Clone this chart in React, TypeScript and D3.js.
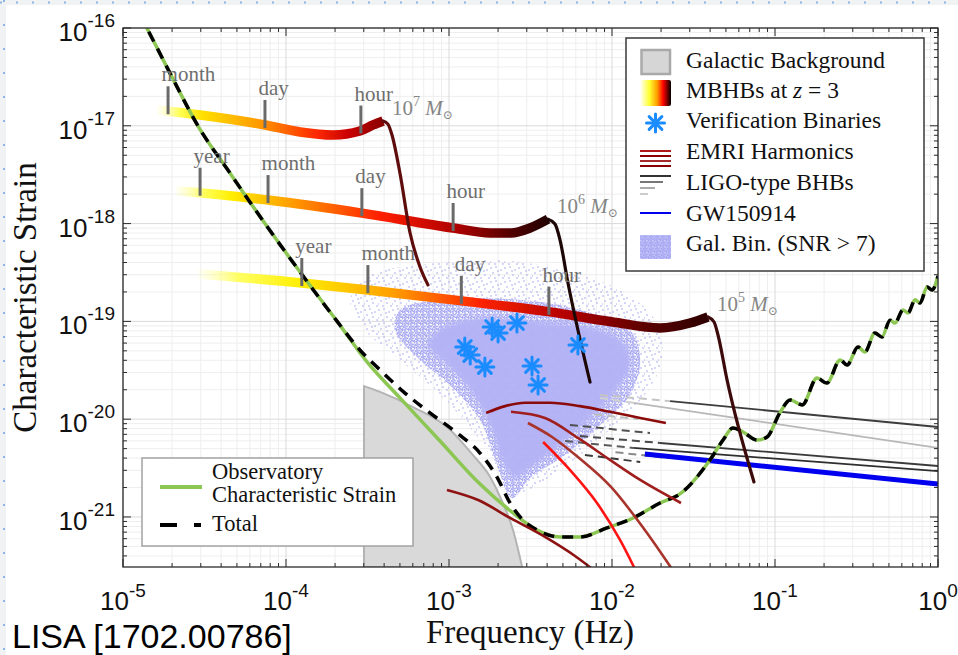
import React from "react";
import * as d3 from "d3";

type P = [number, number];

// ---------------- data (frequency in Hz, characteristic strain) ----------------
const xTickExponents = [-5, -4, -3, -2, -1, 0];
const yTickExponents = [-16, -17, -18, -19, -20, -21];

const sensitivityCurve: P[] = [
  [1.27e-5, 1.36e-16], [1.4e-5, 1.0e-16], [1.94e-5, 3.47e-17], [2.88e-5, 1.0e-17],
  [4.53e-5, 3.29e-18], [7.43e-5, 1.0e-18], [1.22e-4, 3.2e-19], [2.06e-4, 1.0e-19],
  [3.14e-4, 3.85e-20], [5.0e-4, 1.65e-20], [8.81e-4, 5.98e-21], [1.55e-3, 2.17e-21],
  [2.47e-3, 1.1e-21], [3.47e-3, 7.36e-22], [4.8e-3, 6.25e-22], [6.37e-3, 6.25e-22],
  [9.31e-3, 7.72e-22], [1.35e-2, 9.77e-22], [1.97e-2, 1.39e-21], [2.61e-2, 1.72e-21],
  [3.99e-2, 3.83e-21], [4.8e-2, 6.12e-21], [5.52e-2, 8.13e-21], [6.37e-2, 7.4e-21],
  [7.76e-2, 6.12e-21], [8.94e-2, 6.58e-21], [0.107, 1.16e-20], [0.124, 1.57e-20],
  [0.147, 1.4e-20], [0.181, 2.64e-20], [0.208, 2.34e-20], [0.251, 4.03e-20],
  [0.277, 3.58e-20], [0.323, 5.47e-20], [0.356, 4.86e-20], [0.41, 7.6e-20],
  [0.453, 6.92e-20], [0.508, 1.03e-19], [0.545, 9.63e-20], [0.61, 1.31e-19],
  [0.655, 1.22e-19], [0.723, 1.66e-19], [0.776, 1.54e-19], [0.857, 2.25e-19],
  [0.919, 2.09e-19], [1.0, 2.91e-19],
];

// where the total (sensitivity + galactic confusion) departs from the sensitivity curve
const totalDeparture: P[] = [
  [2.84e-4, 5.1e-20], [3.78e-4, 3.18e-20], [5.37e-4, 1.85e-20], [7.64e-4, 1.16e-20],
  [1.12e-3, 7.23e-21], [1.55e-3, 4.51e-21], [1.97e-3, 2.56e-21], [2.37e-3, 1.39e-21],
  [2.73e-3, 1.0e-21],
];

const galacticBackground: P[] = [
  [3.01e-4, 2.18e-20], [3.78e-4, 1.9e-20], [6.01e-4, 1.33e-20], [9.72e-4, 8.32e-21],
  [1.4e-3, 4.31e-21], [1.79e-3, 2.56e-21], [2.06e-3, 1.6e-21], [2.47e-3, 7.36e-22],
  [2.81e-3, 3.08e-22],
];

const galBinHalo: P[] = [
  [2.47e-4, 1.66e-19], [3.27e-4, 2.98e-19], [6.64e-4, 3.78e-19], [2.06e-3, 4.25e-19],
  [4.8e-3, 3.36e-19], [1.12e-2, 2.09e-19], [1.84e-2, 1.03e-19], [2.03e-2, 4.03e-20],
  [1.59e-2, 1.77e-20], [1.04e-2, 8.73e-21], [6.37e-3, 4.31e-21], [3.88e-3, 2.39e-21],
  [2.73e-3, 1.8e-21], [2.21e-3, 2.39e-21], [1.55e-3, 6.12e-21], [8.81e-4, 1.77e-20],
  [5.0e-4, 4.03e-20], [3.05e-4, 8.17e-20],
];
const galBinMid: P[] = [
  [5.0e-4, 1.31e-19], [1.01e-3, 1.66e-19], [2.73e-3, 1.66e-19], [6.37e-3, 1.31e-19],
  [1.29e-2, 8.17e-20], [1.49e-2, 4.03e-20], [1.29e-2, 1.77e-20], [8.44e-3, 8.73e-21],
  [5.15e-3, 4.31e-21], [3.14e-3, 2.51e-21], [2.44e-3, 1.56e-21], [1.91e-3, 4.01e-21],
  [1.55e-3, 9.82e-21], [1.01e-3, 2.24e-20], [6.64e-4, 4.03e-20], [4.67e-4, 8.17e-20],
];
const galBinCore: P[] = [
  [8.81e-4, 8.17e-20], [1.55e-3, 1.08e-19], [3.61e-3, 9.86e-20], [8.44e-3, 8.17e-20],
  [1.2e-2, 5.74e-20], [1.29e-2, 3.58e-20], [1.04e-2, 1.9e-20], [7.33e-3, 1.03e-20],
  [4.8e-3, 5.45e-21], [3.14e-3, 3.17e-21], [2.54e-3, 2.51e-21], [2.14e-3, 3.65e-21],
  [1.79e-3, 8.73e-21], [1.38e-3, 1.9e-20], [9.86e-4, 3.58e-20], [7.43e-4, 5.74e-20],
];

const verificationBinaries: P[] = [
  [1.84e-3, 8.77e-20], [2.0e-3, 7.6e-20], [2.61e-3, 9.63e-20], [1.25e-3, 5.47e-20],
  [1.35e-3, 4.53e-20], [1.66e-3, 3.42e-20], [3.23e-3, 3.5e-20], [3.52e-3, 2.24e-20],
  [6.18e-3, 5.74e-20],
];

const mbhb7Inspiral: P[] = [
  [1.62e-5, 1.45e-17], [2.97e-5, 1.29e-17], [7.43e-5, 1.02e-17], [1.22e-4, 8.65e-18],
  [1.94e-4, 8.05e-18], [2.84e-4, 8.85e-18], [3.42e-4, 1.02e-17], [3.94e-4, 1.12e-17],
];
const mbhb7Merger: P[] = [
  [3.94e-4, 1.12e-17], [4.22e-4, 1.04e-17], [4.47e-4, 8.05e-18], [5.0e-4, 3.29e-18],
  [5.77e-4, 8.02e-19], [6.64e-4, 3.6e-19], [7.43e-4, 2.36e-19],
];
const mbhb6Inspiral: P[] = [
  [2.11e-5, 2.15e-18], [3.05e-5, 2.06e-18], [7.76e-5, 1.74e-18], [2.92e-4, 1.28e-18],
  [1.06e-3, 9.02e-19], [1.79e-3, 8.02e-19], [2.4e-3, 8.02e-19], [3.14e-3, 9.02e-19],
  [4.05e-3, 1.11e-18],
];
const mbhb6Merger: P[] = [
  [4.05e-3, 1.11e-18], [4.47e-3, 9.9e-19], [4.8e-3, 6.79e-19], [5.37e-3, 2.47e-19],
  [6.18e-3, 8.17e-20], [7.33e-3, 2.4e-20],
];
const mbhb5Inspiral: P[] = [
  [2.88e-5, 3.05e-19], [1.25e-4, 2.47e-19], [3.18e-4, 2.09e-19], [1.2e-3, 1.62e-19],
  [4.17e-3, 1.25e-19], [1.01e-2, 9.86e-20], [1.97e-2, 8.57e-20], [3.01e-2, 9.63e-20],
  [3.88e-2, 1.11e-19],
];
const mbhb5Merger: P[] = [
  [3.88e-2, 1.11e-19], [4.23e-2, 9.86e-20], [4.47e-2, 7.26e-20], [5.08e-2, 2.52e-20],
  [7.43e-2, 2.28e-21],
];

const timeToMergerTicks = [
  { track: 0, f: 1.89e-5, label: "month" },
  { track: 0, f: 7.43e-5, label: "day" },
  { track: 0, f: 2.88e-4, label: "hour" },
  { track: 1, f: 2.97e-5, label: "year" },
  { track: 1, f: 7.76e-5, label: "month" },
  { track: 1, f: 2.92e-4, label: "day" },
  { track: 1, f: 1.06e-3, label: "hour" },
  { track: 2, f: 1.25e-4, label: "year" },
  { track: 2, f: 3.18e-4, label: "month" },
  { track: 2, f: 1.19e-3, label: "day" },
  { track: 2, f: 4.1e-3, label: "hour" },
];
const massExponents = ["7", "6", "5"];

const emriHarmonics: P[][] = [
  [[1.69e-3, 1.16e-20], [2.21e-3, 1.36e-20], [2.93e-3, 1.47e-20], [4.17e-3, 1.47e-20],
   [6.37e-3, 1.36e-20], [9.72e-3, 1.19e-20], [1.49e-2, 1.03e-20], [2.14e-2, 9.14e-21]],
  [[2.4e-3, 1.19e-20], [3.88e-3, 1.03e-20], [6.18e-3, 6.43e-21], [9.72e-3, 3.83e-21],
   [1.49e-2, 2.39e-21], [2.65e-2, 1.39e-21]],
  [[3.05e-3, 9.14e-21], [4.29e-3, 6.58e-21], [6.18e-3, 4.1e-21], [9.86e-3, 2.03e-21],
   [1.59e-2, 7.36e-22], [2.47e-2, 2.55e-22]],
  [[3.78e-3, 5.85e-21], [5.52e-3, 3.03e-21], [8.09e-3, 1.39e-21], [1.12e-2, 5.82e-22],
   [1.49e-2, 2.27e-22]],
  [[9.72e-4, 1.89e-21], [1.51e-3, 1.49e-21], [2.37e-3, 9.77e-22], [3.88e-3, 6.25e-22],
   [5.93e-3, 3.99e-22], [8.44e-3, 2.55e-22]],
];

// LIGO-type BHBs: [dashed start, solid start, end]
const ligoTracks: P[][] = [
  [[8.44e-3, 1.77e-20], [2.27e-2, 1.53e-20], [1.0, 8.32e-21]],
  [[8.44e-3, 1.65e-20], [1.35e-2, 1.47e-20], [1.0, 5.08e-21]],
  [[6.37e-3, 6.73e-21], [1.97e-2, 5.71e-21], [1.0, 3.32e-21]],
  [[5.15e-3, 5.98e-21], [1.35e-2, 5.08e-21], [1.0, 2.95e-21]],
  [[5.52e-3, 8.73e-21], [1.71e-2, 7.23e-21], [1.71e-2, 7.23e-21]],
  [[6.82e-3, 4.31e-21], [1.49e-2, 3.65e-21], [1.49e-2, 3.65e-21]],
  [[7.8e-3, 1.12e-20], [1.45e-2, 1.0e-20], [1.45e-2, 1.0e-20]],
  [[1.05e-2, 4.6e-21], [2.2e-2, 4.0e-21], [2.2e-2, 4.0e-21]],
];
const gw150914: P[] = [[1.59e-2, 4.4e-21], [1.0, 2.17e-21]];

const legendLabels = [
  "Galactic Background", "MBHBs at", "Verification Binaries", "EMRI Harmonics",
  "LIGO-type BHBs", "GW150914", "Gal. Bin. (SNR > 7)",
];

// ---------------- styling ----------------
const W = 958, H = 655;
const X0 = 123, X1 = 938, Y0 = 28, Y1 = 567;
const SERIF = "'Liberation Serif', 'DejaVu Serif', serif";
const SANS = "'Liberation Sans', Arial, sans-serif";
const GREEN = "#8cc653";
const LAV = "#b2b2f6";
const BLUE_VB = "#1a8cff";

const trackStyles = [
  { stops: [[0, "#ffffa0", 0.1], [0.1, "#ffff40", 0.9], [0.2, "#ffe000", 1], [0.45, "#ff9a00", 1], [0.7, "#ff2a00", 1], [0.85, "#c80000", 1], [1, "#8a0000", 1]], merger: "#5e0c0c" },
  { stops: [[0, "#ffffa0", 0.1], [0.08, "#ffff40", 0.9], [0.15, "#ffee00", 1], [0.3, "#ffa200", 1], [0.55, "#ff1e00", 1], [0.75, "#b00000", 1], [0.9, "#520000", 1], [1, "#220000", 1]], merger: "#1c0606" },
  { stops: [[0, "#ffffa0", 0.1], [0.08, "#ffff50", 0.9], [0.2, "#ffee00", 1], [0.38, "#ffa000", 1], [0.55, "#ff2400", 1], [0.72, "#b40000", 1], [0.88, "#5a0000", 1], [1, "#2e0000", 1]], merger: "#3c0a0a" },
];
const emriColors = ["#8b0a0a", "#a01e1e", "#a8342c", "#ff1414", "#8e1212"];
const ligoStyles = [
  { dash: "#c4c4c4", solid: "#3c3c3c" },
  { dash: "#d0d0d0", solid: "#b8b8b8" },
  { dash: "#4a4a4a", solid: "#3a3a3a" },
  { dash: "#5a5a5a", solid: "#2e2e2e" },
  { dash: "#505050", solid: "#505050" },
  { dash: "#3a3a3a", solid: "#3a3a3a" },
  { dash: "#bdbdbd", solid: "#bdbdbd" },
  { dash: "#8a8a8a", solid: "#8a8a8a" },
];

const haloDots = [[1, 2], [6, 1], [11, 4], [3, 7], [9, 9], [13, 12], [5, 12], [0, 10], [8, 5]];
const midDots = [[0.5, 0.5], [3, 1], [5, 2.5], [1.5, 3], [4, 4.5], [0.5, 5], [2.5, 5.5], [5.5, 5.5], [3, 3]];
const coreSpecks = [[2, 3], [7, 8], [11, 2], [4, 11]];

function interpLog(track: P[], f: number): number {
  for (let i = 0; i < track.length - 1; i++) {
    const [f0, h0] = track[i];
    const [f1, h1] = track[i + 1];
    if (f >= f0 && f <= f1) {
      const t = (Math.log10(f) - Math.log10(f0)) / (Math.log10(f1) - Math.log10(f0));
      return Math.pow(10, Math.log10(h0) + t * (Math.log10(h1) - Math.log10(h0)));
    }
  }
  return track[track.length - 1][1];
}

function Asterisk({ cx, cy, r, color, w }: { cx: number; cy: number; r: number; color: string; w: number }) {
  return (
    <g stroke={color} strokeWidth={w} strokeLinecap="round">
      {[0, 45, 90, 135].map((a) => {
        const rad = (a * Math.PI) / 180;
        const dx = r * Math.cos(rad), dy = r * Math.sin(rad);
        return <line key={a} x1={cx - dx} y1={cy - dy} x2={cx + dx} y2={cy + dy} />;
      })}
    </g>
  );
}

export default function App() {
  const x = d3.scaleLog().domain([1e-5, 1]).range([X0, X1]);
  const y = d3.scaleLog().domain([1e-16, 3.08e-22]).range([Y0, Y1]);
  const line = d3.line<P>().x((d) => x(d[0])).y((d) => y(d[1])).curve(d3.curveMonotoneX);
  const straight = d3.line<P>().x((d) => x(d[0])).y((d) => y(d[1]));
  const blob = d3.line<P>().x((d) => x(d[0])).y((d) => y(d[1])).curve(d3.curveCatmullRomClosed.alpha(0.5));
  const area = d3.area<P>().x((d) => x(d[0])).y0(Y1).y1((d) => y(d[1])).curve(d3.curveMonotoneX);

  const totalCurve: P[] = [
    ...sensitivityCurve.filter((d) => d[0] <= 2.06e-4),
    ...totalDeparture,
    ...sensitivityCurve.filter((d) => d[0] >= 3.47e-3),
  ];

  const inspirals = [mbhb7Inspiral, mbhb6Inspiral, mbhb5Inspiral];
  const mergers = [mbhb7Merger, mbhb6Merger, mbhb5Merger];

  const xMinor: number[] = [];
  for (let e = -5; e <= -1; e++) for (let k = 2; k <= 9; k++) xMinor.push(k * Math.pow(10, e));
  const yMinor: number[] = [];
  for (let e = -22; e <= -17; e++) for (let k = 2; k <= 9; k++) {
    const v = k * Math.pow(10, e);
    if (v >= 3.08e-22 && v <= 1e-16) yMinor.push(v);
  }
  const xMajor = xTickExponents.map((e) => Math.pow(10, e));
  const yMajor = yTickExponents.map((e) => Math.pow(10, e));

  const legendYs = [68, 98, 128, 159, 190, 221, 251];

  return (
    <svg width={W} height={H} style={{ position: "absolute", left: 0, top: 0, background: "#fff" }}
      xmlns="http://www.w3.org/2000/svg">
      <defs>
        <clipPath id="plotClip"><rect x={X0} y={Y0} width={X1 - X0} height={Y1 - Y0} /></clipPath>
        <pattern id="haloPat" width={14} height={14} patternUnits="userSpaceOnUse">
          {haloDots.map((d, i) => <circle key={i} cx={d[0]} cy={d[1]} r={0.8} fill="#a2a2f0" />)}
        </pattern>
        <pattern id="midPat" width={6} height={6} patternUnits="userSpaceOnUse">
          {midDots.map((d, i) => <circle key={i} cx={d[0]} cy={d[1]} r={0.95} fill="#a6a6f3" />)}
        </pattern>
        <pattern id="corePat" width={13} height={13} patternUnits="userSpaceOnUse">
          <rect width={13} height={13} fill={LAV} />
          {coreSpecks.map((d, i) => <circle key={i} cx={d[0]} cy={d[1]} r={0.6} fill="#d8d8fb" />)}
        </pattern>
        <filter id="soft" x="-10%" y="-10%" width="120%" height="120%">
          <feGaussianBlur stdDeviation={2.2} />
        </filter>
        {inspirals.map((tr, i) => (
          <linearGradient key={i} id={`trk${i}`} gradientUnits="userSpaceOnUse"
            x1={x(tr[0][0])} x2={x(tr[tr.length - 1][0])} y1={0} y2={0}>
            {trackStyles[i].stops.map((s, j) => (
              <stop key={j} offset={s[0] as number} stopColor={s[1] as string} stopOpacity={s[2] as number} />
            ))}
          </linearGradient>
        ))}
        <linearGradient id="legMBHB" x1="0" x2="1" y1="0" y2="0">
          <stop offset="0" stopColor="#ffffff" />
          <stop offset="0.3" stopColor="#ffff30" />
          <stop offset="0.55" stopColor="#ffa000" />
          <stop offset="0.75" stopColor="#ff0000" />
          <stop offset="1" stopColor="#000000" />
        </linearGradient>
      </defs>

      {/* page frame */}
      <rect x={0} y={0} width={W} height={H} fill="#f1f2f4" />
      <rect x={6} y={5} width={W - 6} height={H - 5} fill="#ffffff" />
      <line x1={0} y1={2.5} x2={W} y2={2.5} stroke="#8fb4e6" strokeWidth={2} strokeDasharray="2 14" />
      <line x1={4} y1={0} x2={4} y2={H} stroke="#8fb4e6" strokeWidth={2} strokeDasharray="2 22" />

      {/* grid */}
      <g>
        {xMinor.map((v, i) => <line key={`xm${i}`} x1={x(v)} x2={x(v)} y1={Y0} y2={Y1} stroke="#eeeeee" strokeWidth={1} />)}
        {yMinor.map((v, i) => <line key={`ym${i}`} x1={X0} x2={X1} y1={y(v)} y2={y(v)} stroke="#eeeeee" strokeWidth={1} />)}
        {xMajor.map((v, i) => <line key={`xM${i}`} x1={x(v)} x2={x(v)} y1={Y0} y2={Y1} stroke="#dadada" strokeWidth={1} />)}
        {yMajor.map((v, i) => <line key={`yM${i}`} x1={X0} x2={X1} y1={y(v)} y2={y(v)} stroke="#dadada" strokeWidth={1} />)}
      </g>

      <g clipPath="url(#plotClip)">
        {/* galactic background */}
        <path d={area(galacticBackground) || ""} fill="#d9d9d9" stroke="#b4b4b4" strokeWidth={2} />

        {/* galactic binaries cloud */}
        <path d={blob(galBinHalo) || ""} fill="url(#haloPat)" />
        <path d={blob(galBinMid) || ""} fill="url(#midPat)" />
        <path d={blob(galBinCore) || ""} fill="url(#corePat)" filter="url(#soft)" opacity={0.97} />

        {/* LIGO-type BHBs */}
        {ligoTracks.map((t, i) => (
          <g key={`l${i}`}>
            <path d={straight([t[0], t[1]]) || ""} fill="none" stroke={ligoStyles[i].dash} strokeWidth={2} strokeDasharray="8 5" />
            {t[2][0] > t[1][0] && (
              <path d={straight([t[1], t[2]]) || ""} fill="none" stroke={ligoStyles[i].solid} strokeWidth={1.8} />
            )}
          </g>
        ))}
        <path d={straight(gw150914) || ""} fill="none" stroke="#0000ee" strokeWidth={5} />

        {/* MBHB inspirals */}
        {inspirals.map((tr, i) => (
          <path key={`in${i}`} d={line(tr) || ""} fill="none" stroke={`url(#trk${i})`} strokeWidth={9.5} />
        ))}

        {/* sensitivity and total */}
        <path d={line(sensitivityCurve) || ""} fill="none" stroke={GREEN} strokeWidth={3.5} />
        <path d={line(totalCurve) || ""} fill="none" stroke="#000" strokeWidth={3.5} strokeDasharray="11 8" />

        {/* MBHB mergers */}
        {mergers.map((tr, i) => (
          <path key={`mg${i}`} d={line(tr) || ""} fill="none" stroke={trackStyles[i].merger} strokeWidth={3.2} strokeLinecap="round" />
        ))}

        {/* EMRIs */}
        {emriHarmonics.map((tr, i) => (
          <path key={`e${i}`} d={line(tr) || ""} fill="none" stroke={emriColors[i]} strokeWidth={2.6} />
        ))}

        {/* verification binaries */}
        {verificationBinaries.map((d, i) => (
          <Asterisk key={`vb${i}`} cx={x(d[0])} cy={y(d[1])} r={9} color={BLUE_VB} w={3} />
        ))}
      </g>

      {/* time-to-merger ticks */}
      {timeToMergerTicks.map((t, i) => {
        const px = x(t.f);
        const py = y(interpLog(inspirals[t.track], t.f));
        return (
          <g key={`tt${i}`}>
            <line x1={px} x2={px} y1={py + 3} y2={py - 25} stroke="#6a6a6a" strokeWidth={3} />
            <text x={px - 6.5} y={py - 30} fontFamily={SERIF} fontSize={21} fill="#6e6e6e">{t.label}</text>
          </g>
        );
      })}
      {inspirals.map((tr, i) => {
        const last = tr[tr.length - 1];
        return (
          <text key={`ms${i}`} x={x(last[0]) + 9} y={y(last[1]) - 6} fontFamily={SERIF} fontSize={21} fill="#858585">
            10<tspan dy={-9} fontSize={14}>{massExponents[i]}</tspan>
            <tspan dy={9} fontStyle="italic">{" M"}</tspan>
            <tspan dy={4} fontSize={12}>⊙</tspan>
          </text>
        );
      })}

      {/* axes frame and ticks */}
      <g stroke="#2b2b2b" strokeWidth={1}>
        {xMajor.map((v, i) => (
          <g key={`xt${i}`}>
            <line x1={x(v)} x2={x(v)} y1={Y1} y2={Y1 - 8} />
            <line x1={x(v)} x2={x(v)} y1={Y0} y2={Y0 + 8} />
          </g>
        ))}
        {xMinor.map((v, i) => (
          <g key={`xtm${i}`}>
            <line x1={x(v)} x2={x(v)} y1={Y1} y2={Y1 - 4} />
            <line x1={x(v)} x2={x(v)} y1={Y0} y2={Y0 + 4} />
          </g>
        ))}
        {yMajor.map((v, i) => (
          <g key={`yt${i}`}>
            <line x1={X0} x2={X0 + 8} y1={y(v)} y2={y(v)} />
            <line x1={X1} x2={X1 - 8} y1={y(v)} y2={y(v)} />
          </g>
        ))}
        {yMinor.map((v, i) => (
          <g key={`ytm${i}`}>
            <line x1={X0} x2={X0 + 4} y1={y(v)} y2={y(v)} />
            <line x1={X1} x2={X1 - 4} y1={y(v)} y2={y(v)} />
          </g>
        ))}
        <rect x={X0} y={Y0} width={X1 - X0} height={Y1 - Y0} fill="none" strokeWidth={1.3} />
      </g>

      {/* tick labels */}
      {xTickExponents.map((e, i) => (
        <text key={`xl${i}`} x={x(Math.pow(10, e))} y={610} textAnchor="middle" fontFamily={SANS} fontSize={26} fill="#111">
          10<tspan dy={-13} fontSize={19}>{String(e)}</tspan>
        </text>
      ))}
      {yTickExponents.map((e, i) => (
        <text key={`yl${i}`} x={115} y={y(Math.pow(10, e)) + 13} textAnchor="end" fontFamily={SANS} fontSize={26} fill="#111">
          10<tspan dy={-14} fontSize={19}>{String(e)}</tspan>
        </text>
      ))}

      {/* axis titles */}
      <text x={530} y={643} textAnchor="middle" fontFamily={SERIF} fontSize={33} fill="#111">Frequency (Hz)</text>
      <text transform={`translate(36,${(Y0 + Y1) / 2}) rotate(-90)`} textAnchor="middle" fontFamily={SERIF} fontSize={33} fill="#111">
        Characteristic Strain
      </text>
      <text x={12} y={648} fontFamily={SANS} fontSize={34} fill="#000">LISA [1702.00786]</text>

      {/* legend (top right) */}
      <g>
        <rect x={626} y={38} width={298} height={233} fill="#fff" stroke="#3a3a3a" strokeWidth={1.5} />
        <rect x={641.5} y={50} width={28.5} height={24} fill="#d6d6d6" stroke="#a9a9a9" strokeWidth={2.5} />
        <rect x={640} y={80} width={31} height={26} rx={2} fill="url(#legMBHB)" />
        <Asterisk cx={655.5} cy={123} r={9} color={BLUE_VB} w={3} />
        {[151, 156, 161, 166].map((yy, i) => (
          <line key={`le${i}`} x1={640} x2={671} y1={yy} y2={yy} stroke={["#b01818", "#8b0000", "#a52a2a", "#8b0000"][i]} strokeWidth={2} />
        ))}
        {[[176, 31, "#333"], [182, 23, "#777"], [188, 15, "#aaa"], [194, 8, "#ccc"]].map((s, i) => (
          <line key={`ll${i}`} x1={640} x2={640 + (s[1] as number)} y1={s[0] as number} y2={s[0] as number} stroke={s[2] as string} strokeWidth={2} />
        ))}
        <line x1={640} x2={671} y1={213} y2={213} stroke="#0000ee" strokeWidth={2} />
        <rect x={640} y={235} width={31} height={24} fill="#c4c4f8" />
        <rect x={640} y={235} width={31} height={24} fill="url(#midPat)" />
        {legendLabels.map((s, i) => (
          <text key={`lt${i}`} x={686} y={legendYs[i]} fontFamily={SERIF} fontSize={23.5} fill="#111">
            {s}
            {i === 1 && (<>
              <tspan> </tspan><tspan fontStyle="italic">z</tspan><tspan> = 3</tspan>
            </>)}
          </text>
        ))}
      </g>

      {/* legend (bottom left) */}
      <g>
        <rect x={142} y={458} width={271} height={88} fill="#fff" stroke="#a3a3a3" strokeWidth={1.5} />
        <line x1={160} x2={202} y1={487} y2={487} stroke={GREEN} strokeWidth={4} />
        <line x1={160} x2={177} y1={525} y2={525} stroke="#000" strokeWidth={4} />
        <line x1={194} x2={201} y1={525} y2={525} stroke="#000" strokeWidth={4} />
        <text x={212} y={479} fontFamily={SERIF} fontSize={22.5} fill="#111">Observatory</text>
        <text x={212} y={502} fontFamily={SERIF} fontSize={22.5} fill="#111">Characteristic Strain</text>
        <text x={212} y={531} fontFamily={SERIF} fontSize={22.5} fill="#111">Total</text>
      </g>
    </svg>
  );
}
